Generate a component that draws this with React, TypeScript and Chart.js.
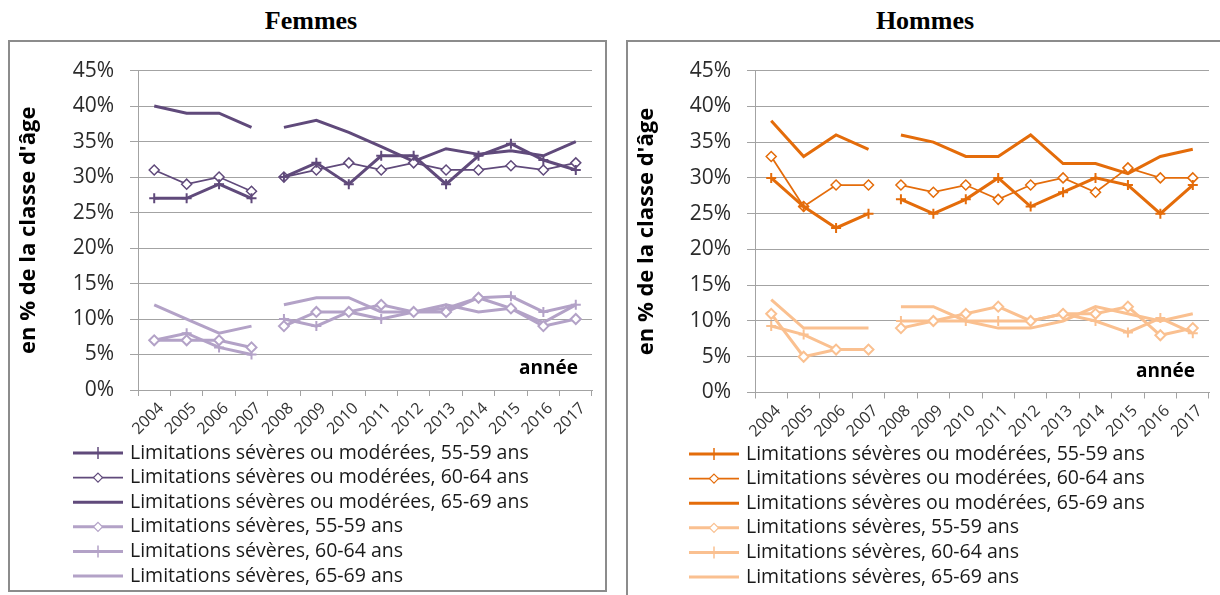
import React, { useEffect, useRef } from "react";
import { Chart, registerables } from "chart.js";

Chart.register(...registerables);

// ---------- data ----------
const years = ["2004", "2005", "2006", "2007", "2008", "2009", "2010", "2011", "2012", "2013", "2014", "2015", "2016", "2017"];

const seriesLabels = [
  "Limitations sévères ou modérées, 55-59 ans",
  "Limitations sévères ou modérées, 60-64 ans",
  "Limitations sévères ou modérées, 65-69 ans",
  "Limitations sévères, 55-59 ans",
  "Limitations sévères, 60-64 ans",
  "Limitations sévères, 65-69 ans",
];

const yTickSuffix = "%";
const xAxisNote = "année";
const yAxisTitle = "en % de la classe d'âge";

// Femmes
const femmesSevMod5559 = [27, 27, 29, 27, 30, 32, 29, 33, 33, 29, 33, 34.7, 32.4, 31];
const femmesSevMod6064 = [31, 29, 30, 28, 30, 31, 32, 31, 32, 31, 31, 31.6, 31, 32];
const femmesSevMod6569 = [40, 39, 39, 37, 37, 38, 36.3, 34.3, 32.2, 34, 33.2, 33.7, 33, 35];
const femmesSev5559 = [7, 7, 7, 6, 9, 11, 11, 12, 11, 11, 13, 11.5, 9, 10];
const femmesSev6064 = [7, 8, 6, 5, 10, 9, 11, 10, 11, 11.5, 13, 13.2, 11, 12];
const femmesSev6569 = [12, 10, 8, 9, 12, 13, 13, 11, 11, 12, 11, 11.5, 9.5, 12];

// Hommes
const hommesSevMod5559 = [30, 26, 23, 25, 27, 25, 27, 30, 26, 28, 30, 29, 25, 29];
const hommesSevMod6064 = [33, 26, 29, 29, 29, 28, 29, 27, 29, 30, 28, 31.4, 30, 30];
const hommesSevMod6569 = [38, 33, 36, 34, 36, 35, 33, 33, 36, 32, 32, 30.6, 33, 34];
const hommesSev5559 = [11, 5, 6, 6, 9, 10, 11, 12, 10, 11, 11, 12, 8, 9];
const hommesSev6064 = [9.3, 8.1, 6, 6, 10, 10, 10, 10, 10, 11, 10, 8.4, 10.4, 8.3];
const hommesSev6569 = [13, 9, 9, 9, 12, 12, 10, 9, 9, 10, 12, 11, 10, 11];

// ---------- styles ----------
const FONT = "'Open Sans', 'DejaVu Sans', sans-serif";
const markerStyles: (string | false)[] = ["cross", "rectRot", false, "rectRot", "cross", false];
const lineWidths = [3, 1.75, 3, 3, 3, 3];
const GRID = "#A3A3A3";

type Geom = {
  canvasW: number;
  canvasH: number;
  padRight: number;
  padTop: number;
  padBottom: number;
  yWidth: number;
  xHeight: number;
  legendTop: number;
  legendStep: number;
  sampleX: number;
  textX: number;
};

const overlayPlugin = {
  id: "overlay",
  afterDraw(chart: any, _args: any, opts: any) {
    const { ctx, chartArea } = chart;
    ctx.save();
    // "année" note
    ctx.font = `bold 19px ${FONT}`;
    ctx.fillStyle = "#000";
    ctx.textAlign = "right";
    ctx.textBaseline = "middle";
    ctx.fillText(xAxisNote, chartArea.right - 14, chartArea.bottom - 21);

    // legend
    const dsets = chart.data.datasets;
    dsets.forEach((ds: any, i: number) => {
      const y = opts.legendTop + i * opts.legendStep;
      const x0 = opts.sampleX;
      const x1 = x0 + 50;
      const cx = (x0 + x1) / 2;
      ctx.strokeStyle = ds.borderColor;
      ctx.lineWidth = ds.borderWidth;
      ctx.beginPath();
      ctx.moveTo(x0, y);
      ctx.lineTo(x1, y);
      ctx.stroke();
      const m = markerStyles[i];
      if (m === "cross") {
        ctx.lineWidth = 1.5;
        ctx.beginPath();
        ctx.moveTo(cx, y - 6);
        ctx.lineTo(cx, y + 6);
        ctx.stroke();
      } else if (m === "rectRot") {
        const r = 4.5;
        ctx.lineWidth = 1.2;
        ctx.fillStyle = "#fff";
        ctx.beginPath();
        ctx.moveTo(cx, y - r);
        ctx.lineTo(cx + r, y);
        ctx.lineTo(cx, y + r);
        ctx.lineTo(cx - r, y);
        ctx.closePath();
        ctx.fill();
        ctx.stroke();
      }
      ctx.font = `19.5px ${FONT}`;
      ctx.fillStyle = "#1a1a1a";
      ctx.textAlign = "left";
      ctx.textBaseline = "middle";
      ctx.fillText(ds.label, opts.textX, y);
    });
    ctx.restore();
  },
};

function buildConfig(values: number[][], dark: string, light: string, g: Geom): any {
  const datasets = values.map((vals, i) => {
    const color = i < 3 ? dark : light;
    const marker = markerStyles[i];
    return {
      label: seriesLabels[i],
      data: vals,
      borderColor: color,
      backgroundColor: color,
      borderWidth: lineWidths[i],
      pointStyle: marker || "circle",
      pointRadius: marker ? 5 : 0,
      pointBorderWidth: marker === "cross" ? 2 : i < 3 ? 1.5 : 2,
      pointBorderColor: color,
      pointBackgroundColor: marker === "rectRot" ? "#ffffff" : color,
      tension: 0,
      segment: {
        borderColor: (c: any) => (c.p0DataIndex === 3 ? "rgba(0,0,0,0)" : undefined),
      },
    };
  });

  return {
    type: "line",
    data: { labels: years, datasets },
    plugins: [overlayPlugin],
    options: {
      responsive: false,
      animation: false,
      events: [],
      layout: {
        padding: { left: 0, right: g.padRight, top: g.padTop, bottom: g.padBottom },
      },
      plugins: {
        legend: { display: false },
        tooltip: { enabled: false },
        title: { display: false },
        overlay: {
          legendTop: g.legendTop,
          legendStep: g.legendStep,
          sampleX: g.sampleX,
          textX: g.textX,
        },
      },
      scales: {
        x: {
          offset: true,
          grid: {
            offset: true,
            drawOnChartArea: false,
            drawTicks: true,
            tickLength: 6,
            color: GRID,
            lineWidth: 1,
          },
          border: { display: true, color: GRID, width: 1 },
          ticks: {
            autoSkip: false,
            minRotation: 45,
            maxRotation: 45,
            padding: 3,
            labelOffset: 7,
            color: "#333",
            font: { family: FONT, size: 16 },
          },
          afterFit: (s: any) => {
            s.height = g.xHeight;
          },
        },
        y: {
          min: 0,
          max: 45,
          ticks: {
            stepSize: 5,
            padding: 16,
            color: "#2b2b2b",
            font: { family: FONT, size: 21 },
            callback: (v: any) => `${v}${yTickSuffix}`,
          },
          grid: { color: GRID, lineWidth: 1, tickLength: 8 },
          border: { display: true, color: GRID, width: 1 },
          title: {
            display: true,
            text: yAxisTitle,
            color: "#000",
            font: { family: FONT, size: 22, weight: "bold" },
            padding: { top: 6, bottom: 0 },
          },
          afterFit: (s: any) => {
            s.width = g.yWidth;
          },
        },
      },
    },
  };
}

type PanelProps = {
  title: string;
  titleCenter: number;
  box: { left: number; top: number; width: number; height: number };
  values: number[][];
  dark: string;
  light: string;
  geom: Geom;
};

function Panel({ title, titleCenter, box, values, dark, light, geom }: PanelProps) {
  const ref = useRef<HTMLCanvasElement>(null);
  useEffect(() => {
    if (!ref.current) return;
    const chart = new Chart(ref.current, buildConfig(values, dark, light, geom));
    return () => chart.destroy();
  }, []);
  return (
    <>
      <div
        style={{
          position: "absolute",
          left: titleCenter - 150,
          width: 300,
          top: 4,
          textAlign: "center",
          fontFamily: "'Liberation Serif', 'Times New Roman', serif",
          fontWeight: "bold",
          fontSize: 26,
          lineHeight: "34px",
          color: "#000",
        }}
      >
        {title}
      </div>
      <div
        style={{
          position: "absolute",
          left: box.left,
          top: box.top,
          width: box.width,
          height: box.height,
          border: "2px solid #8C8C8C",
          boxSizing: "border-box",
          background: "#fff",
        }}
      >
        <canvas
          ref={ref}
          width={geom.canvasW}
          height={geom.canvasH}
          style={{ position: "absolute", left: 0, top: 0, width: geom.canvasW, height: geom.canvasH }}
        />
      </div>
    </>
  );
}

const leftGeom: Geom = {
  canvasW: 595,
  canvasH: 548,
  padRight: 13,
  padTop: 17.5,
  padBottom: 144,
  yWidth: 128,
  xHeight: 56,
  legendTop: 411,
  legendStep: 24.6,
  sampleX: 63,
  textX: 120,
};

const rightGeom: Geom = {
  canvasW: 596,
  canvasH: 566,
  padRight: 15,
  padTop: 19,
  padBottom: 159.5,
  yWidth: 127,
  xHeight: 56,
  legendTop: 412,
  legendStep: 24.6,
  sampleX: 61,
  textX: 118,
};

export default function App() {
  return (
    <div style={{ position: "absolute", left: 0, top: 0, width: 1220, height: 595, overflow: "hidden", background: "#fff" }}>
      <Panel
        title="Femmes"
        titleCenter={311}
        box={{ left: 8, top: 40, width: 599, height: 552 }}
        values={[femmesSevMod5559, femmesSevMod6064, femmesSevMod6569, femmesSev5559, femmesSev6064, femmesSev6569]}
        dark="#604A7B"
        light="#B3A2C7"
        geom={leftGeom}
      />
      <Panel
        title="Hommes"
        titleCenter={925}
        box={{ left: 626, top: 40, width: 600, height: 570 }}
        values={[hommesSevMod5559, hommesSevMod6064, hommesSevMod6569, hommesSev5559, hommesSev6064, hommesSev6569]}
        dark="#E46C0A"
        light="#FAC090"
        geom={rightGeom}
      />
    </div>
  );
}
